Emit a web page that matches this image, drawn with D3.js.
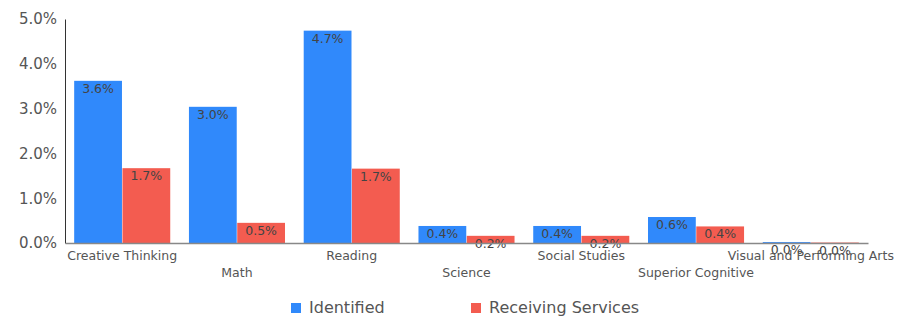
<!DOCTYPE html>
<html>
<head>
<meta charset="utf-8">
<script src="https://cdn.jsdelivr.net/npm/d3@7"></script>
<style>
  body { margin: 0; background: #fff; }
  text { font-family: "DejaVu Sans", sans-serif; }
</style>
</head>
<body>
<div id="chart"></div>
<script>
const categories = ['Creative Thinking', 'Math', 'Reading', 'Science', 'Social Studies', 'Superior Cognitive', 'Visual and Performing Arts'];
const identified = [3.62, 3.04, 4.74, 0.38, 0.38, 0.58, 0.02];
const receiving = [1.67, 0.45, 1.66, 0.16, 0.16, 0.37, 0.01];
const seriesNames = ['Identified', 'Receiving Services'];
const colors = ['#3089fb', '#f35c50'];
const yTicks = [0, 1, 2, 3, 4, 5];

const width = 917, height = 319;
const margin = { top: 19, right: 49, bottom: 76, left: 65 };

const svg = d3.select('#chart').append('svg')
  .attr('width', width)
  .attr('height', height);

const x = d3.scaleBand()
  .domain(categories)
  .range([margin.left, width - margin.right])
  .paddingInner(0.163)
  .paddingOuter(0.08);

const xSub = d3.scaleBand()
  .domain(seriesNames)
  .range([0, x.bandwidth()])
  .paddingInner(0.01);

const y = d3.scaleLinear()
  .domain([0, 5])
  .range([height - margin.bottom, margin.top]);

// y axis
const yAxis = svg.append('g')
  .attr('transform', `translate(${margin.left},0)`)
  .call(d3.axisLeft(y).tickValues(yTicks).tickSize(0).tickPadding(8).tickFormat(d => d.toFixed(1) + '%'));
yAxis.select('.domain').attr('stroke', '#333');
yAxis.selectAll('text').attr('fill', '#555').style('font-size', '15px');

// bars
const groups = svg.append('g').selectAll('g')
  .data(categories.map((c, i) => ({ c, vals: [identified[i], receiving[i]] })))
  .join('g')
  .attr('transform', d => `translate(${x(d.c)},0)`);

groups.selectAll('rect')
  .data(d => d.vals.map((v, j) => ({ v, s: seriesNames[j], j })))
  .join('rect')
  .attr('x', d => xSub(d.s))
  .attr('y', d => y(d.v))
  .attr('width', xSub.bandwidth())
  .attr('height', d => y(0) - y(d.v))
  .attr('fill', d => colors[d.j]);

groups.selectAll('text.val')
  .data(d => d.vals.map((v, j) => ({ v, s: seriesNames[j], j })))
  .join('text')
  .attr('class', 'val')
  .attr('x', d => xSub(d.s) + xSub.bandwidth() / 2)
  .attr('y', d => y(d.v) + 12)
  .attr('text-anchor', 'middle')
  .attr('fill', '#444')
  .style('font-size', '12.5px')
  .text(d => d.v.toFixed(1) + '%');

// x axis
const xAxis = svg.append('g')
  .attr('transform', `translate(0,${y(0)})`)
  .call(d3.axisBottom(x).tickSize(0).tickSizeOuter(0).tickPadding(0));
xAxis.select('.domain').attr('stroke', '#888').attr('stroke-width', 1.5);
xAxis.selectAll('text')
  .attr('fill', '#555')
  .style('font-size', '12.5px')
  .attr('dy', 0)
  .attr('y', (d, i) => i % 2 === 0 ? 17 : 34);

// legend
const legend = svg.append('g');
const legendX = [291, 471];
seriesNames.forEach((name, i) => {
  legend.append('rect')
    .attr('x', legendX[i]).attr('y', 303)
    .attr('width', 10).attr('height', 10)
    .attr('fill', colors[i]);
  legend.append('text')
    .attr('x', legendX[i] + 18).attr('y', 313)
    .attr('fill', '#555')
    .style('font-size', '16px')
    .text(name);
});
</script>
</body>
</html>
